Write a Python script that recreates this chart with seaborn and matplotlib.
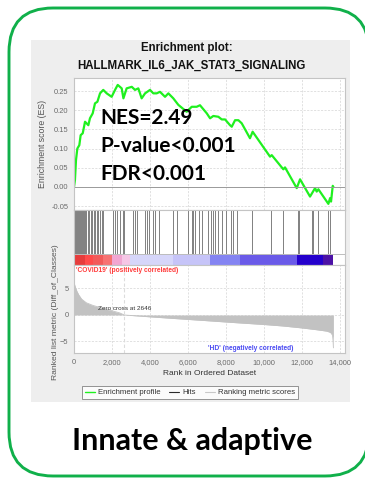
import numpy as np
import pandas as pd
import seaborn as sns
import matplotlib
matplotlib.use("Agg")
import matplotlib.pyplot as plt
from matplotlib.patches import FancyBboxPatch, Rectangle
from matplotlib.lines import Line2D
from matplotlib.ticker import FuncFormatter, FormatStrFormatter, MultipleLocator

# ---- data -------------------------------------------------------------
title_lines = ["Enrichment plot:", "HALLMARK_IL6_JAK_STAT3_SIGNALING"]
stats_lines = ["NES=2.49", "P-value<0.001", "FDR<0.001"]
panel_caption = "Innate & adaptive"
n_genes = 13650
zero_cross = 2646

# running enrichment score along the ranked list
es_rank = [0, 50, 105, 175, 280, 350, 460, 580, 755, 840, 985, 1105, 1230,
           1370, 1540, 1720, 1980, 2160, 2300, 2510, 2600, 2770, 3040, 3210,
           3385, 3560, 3740, 4000, 4175, 4350, 4525, 4790, 4965, 5225, 5490,
           5930, 6195, 6455, 6630, 6985, 7160, 7330, 7595, 7775, 7950, 8210,
           8300, 8475, 8650, 8825, 9260, 9400, 10315, 10405, 11015, 11105,
           11720, 11895, 12420, 12685, 12770, 12860, 13385, 13475, 13525,
           13615, 13650]
es_value = [0.0, 0.018, 0.07, 0.10, 0.109, 0.135, 0.14, 0.17, 0.161, 0.179,
            0.192, 0.218, 0.222, 0.244, 0.253, 0.244, 0.235, 0.253, 0.266,
            0.257, 0.231, 0.257, 0.261, 0.253, 0.257, 0.231, 0.244, 0.253,
            0.244, 0.244, 0.248, 0.235, 0.244, 0.231, 0.214, 0.196, 0.209,
            0.209, 0.213, 0.192, 0.179, 0.185, 0.183, 0.176, 0.176, 0.161,
            0.157, 0.174, 0.174, 0.166, 0.127, 0.144, 0.079, 0.083, 0.046,
            0.051, -0.003, 0.020, -0.025, -0.003, -0.012, -0.006, -0.044,
            -0.029, -0.038, 0.003, 0.0]

# positions of gene-set members in the ranked list
hit_ranks = [53, 105, 158, 211, 263, 316, 368, 421, 474, 526, 579, 632, 737,
             789, 895, 947, 1053, 1105, 1195, 1279, 1368, 1458, 1542, 2068,
             2158, 2247, 2421, 2563, 2647, 3121, 3211, 3316, 3737, 3842, 3963,
             4142, 4263, 4474, 5226, 5405, 6016, 6195, 6279, 6368, 6579, 6721,
             7068, 7211, 7316, 7421, 7579, 7774, 8000, 8263, 8368, 8563, 9353,
             10368, 10984, 11774, 11842, 12511, 12595, 12858, 13384, 13474]

# ranked list metric (Diff_of_Classes)
metric_rank = [0, 50, 150, 250, 400, 650, 1000, 1500, 2000, 2400, 2646, 4000,
               5500, 7000, 8500, 10000, 11000, 12000, 12800, 13300, 13500,
               13600, 13630, 13650]
metric_value = [6.2, 5.5, 4.5, 3.8, 3.0, 2.3, 1.8, 1.3, 0.8, 0.4, 0.0, -0.35,
                -0.72, -1.08, -1.45, -1.8, -2.08, -2.45, -2.8, -3.05, -3.3,
                -3.8, -4.8, -6.2]

# phenotype colour band
band_edges = [0, 580, 1020, 1540, 1980, 2500, 2950, 5230, 7160, 8740, 11740,
              13100, 13650]
band_colors = ['#e63c3c', '#ff4a4a', '#f25a5a', '#f77272', '#f2a6d2',
               '#f6c6e6', '#d6d6fa', '#c6c4f8', '#8484f2', '#6a5ae8',
               '#2400cc', '#4c12a6']

# ---- style ------------------------------------------------------------
sns.set_theme(style="white")
plt.rcParams['font.family'] = ['Liberation Sans', 'DejaVu Sans']

W, H = 365, 480
fig = plt.figure(figsize=(W / 100, H / 100), dpi=100)


def fx(px):
    return px / W


def fy(py):
    return 1 - py / H


def axes_px(x0, y0, x1, y1, **kw):
    return fig.add_axes([fx(x0), fy(y1), fx(x1) - fx(x0), fy(y0) - fy(y1)], **kw)


# backdrop: rounded frame, grey plot panel, caption
bg = fig.add_axes([0, 0, 1, 1], zorder=-5)
bg.set_xlim(0, W)
bg.set_ylim(H, 0)
bg.axis('off')
bg.add_patch(FancyBboxPatch((9, 8), 360, 468,
                            boxstyle="round,pad=0,rounding_size=44",
                            facecolor='white', edgecolor='#10b04a', lw=2.1))
bg.add_patch(Rectangle((31, 40), 319, 362, facecolor='#eeeeee', edgecolor='none'))
bg.text(192, 441, panel_caption, ha='center', va='center', fontsize=22,
        fontweight='bold', family=['Lato', 'DejaVu Sans'], color='black')
bg.text(187, 48, title_lines[0], ha='center', va='center', fontsize=8.3,
        fontweight='bold', color='#111111')
bg.text(191, 66, title_lines[1], ha='center', va='center', fontsize=8.3,
        fontweight='bold', color='#111111')

XMAX = 14260
spine_col = '#c4c4c4'
grid_kw = dict(color='#d4d4d4', linestyle=(0, (3, 2)), linewidth=0.5)
tick_col = '#6a6a6a'


def style_axes(ax):
    ax.set_facecolor('white')
    for s in ax.spines.values():
        s.set_color(spine_col)
        s.set_linewidth(0.8)
    ax.tick_params(colors=tick_col, labelsize=5.4, length=2, width=0.5, pad=2)


# ---- enrichment score --------------------------------------------------
ax_es = axes_px(74, 78, 345, 210)
style_axes(ax_es)
es_df = pd.DataFrame({"rank": es_rank, "es": es_value})
sns.lineplot(data=es_df, x="rank", y="es", ax=ax_es, color='#1ff01f',
             lw=1.6, estimator=None, sort=False)
ax_es.axhline(0, color='#9a9a9a', lw=0.7)
ax_es.set_xlim(0, XMAX)
ax_es.set_ylim(-0.06, 0.284)
ax_es.xaxis.set_major_locator(MultipleLocator(2000))
ax_es.yaxis.set_major_locator(MultipleLocator(0.05))
ax_es.yaxis.set_major_formatter(FormatStrFormatter('%.2f'))
ax_es.set_xticklabels([])
ax_es.tick_params(axis='x', length=0)
ax_es.grid(True, **grid_kw)
ax_es.set_xlabel("")
ax_es.set_ylabel("Enrichment score (ES)", fontsize=6.3, color='#555555', labelpad=3)
for i, s in enumerate(stats_lines):
    ax_es.text((100 - 74) / (345 - 74), 1 - (118 + 28 * i - 78) / (210 - 78),
               s, transform=ax_es.transAxes, ha='left', va='center',
               fontsize=15, fontweight='bold', family=['Lato', 'DejaVu Sans'],
               color='black')

# ---- hits + colour band ------------------------------------------------
ax_hit = axes_px(74, 210, 345, 265)
style_axes(ax_hit)
ax_hit.set_xlim(0, XMAX)
ax_hit.set_ylim(0, 55)
ax_hit.vlines(hit_ranks, 11, 55, color='#3a3a3a', lw=0.6, alpha=0.75)
widths = np.diff(band_edges)
ax_hit.bar(band_edges[:-1], [11] * len(widths), width=widths, bottom=0,
           align='edge', color=band_colors, linewidth=0)
ax_hit.axhline(11, color='#bdbdbd', lw=0.7)
ax_hit.set_xticks([])
ax_hit.set_yticks([])

# ---- ranked list metric ------------------------------------------------
ax_m = axes_px(74, 265, 345, 353)
style_axes(ax_m)
ax_m.set_xlim(0, XMAX)
ax_m.set_ylim(-7.17, 9.43)
ax_m.fill_between(metric_rank, 0, metric_value, color='#c2c2c2', lw=0)
m_df = pd.DataFrame({"rank": metric_rank, "metric": metric_value})
sns.lineplot(data=m_df, x="rank", y="metric", ax=ax_m, color='#c2c2c2',
             lw=0.6, estimator=None, sort=False)
ax_m.axvline(zero_cross, color='#dcdcdc', lw=0.8, linestyle=(0, (3, 2)))
ax_m.xaxis.set_major_locator(MultipleLocator(2000))
ax_m.yaxis.set_major_locator(MultipleLocator(5))
ax_m.xaxis.set_major_formatter(FuncFormatter(lambda v, p: f"{int(v):,}"))
ax_m.grid(True, **grid_kw)
ax_m.set_xlabel("Rank in Ordered Dataset", fontsize=6, color='#333333', labelpad=3)
ax_m.set_ylabel("")
ax_m.text(2 / 271, 1 - 5 / 88, "'COVID19' (positively correlated)",
          transform=ax_m.transAxes, ha='left', va='center', fontsize=4.8,
          fontweight='bold', color='#ff3b3b')
ax_m.text((208 - 74) / 271, 1 - (348 - 265) / 88, "'HD' (negatively correlated)",
          transform=ax_m.transAxes, ha='left', va='center', fontsize=4.8,
          fontweight='bold', color='#4a4af2')
ax_m.text((98 - 74) / 271, 1 - (309 - 265) / 88, "Zero cross at 2646",
          transform=ax_m.transAxes, ha='left', va='center', fontsize=4.6,
          color='#333333')
fig.text(fx(56), fy(312), "Ranked list metric (Diff_of_Classes)", rotation=90,
         ha='center', va='center', fontsize=6.1, color='#555555')

# ---- legend -------------------------------------------------------------
handles = [Line2D([], [], color='#1ff01f', lw=1.0),
           Line2D([], [], color='#2a2a2a', lw=0.8),
           Line2D([], [], color='#c8c8c8', lw=0.8)]
labels = ["Enrichment profile", "Hits", "Ranking metric scores"]
leg = fig.legend(handles, labels, loc='center', bbox_to_anchor=(fx(190), fy(392.5)),
                 ncol=3, fontsize=5.6, frameon=True, fancybox=False,
                 handlelength=1.3, handletextpad=0.4, columnspacing=1.1,
                 borderpad=0.35, labelcolor='#333333')
leg.get_frame().set_edgecolor('#666666')
leg.get_frame().set_linewidth(0.6)
leg.get_frame().set_facecolor('white')

fig.savefig("out.png", dpi=100)
